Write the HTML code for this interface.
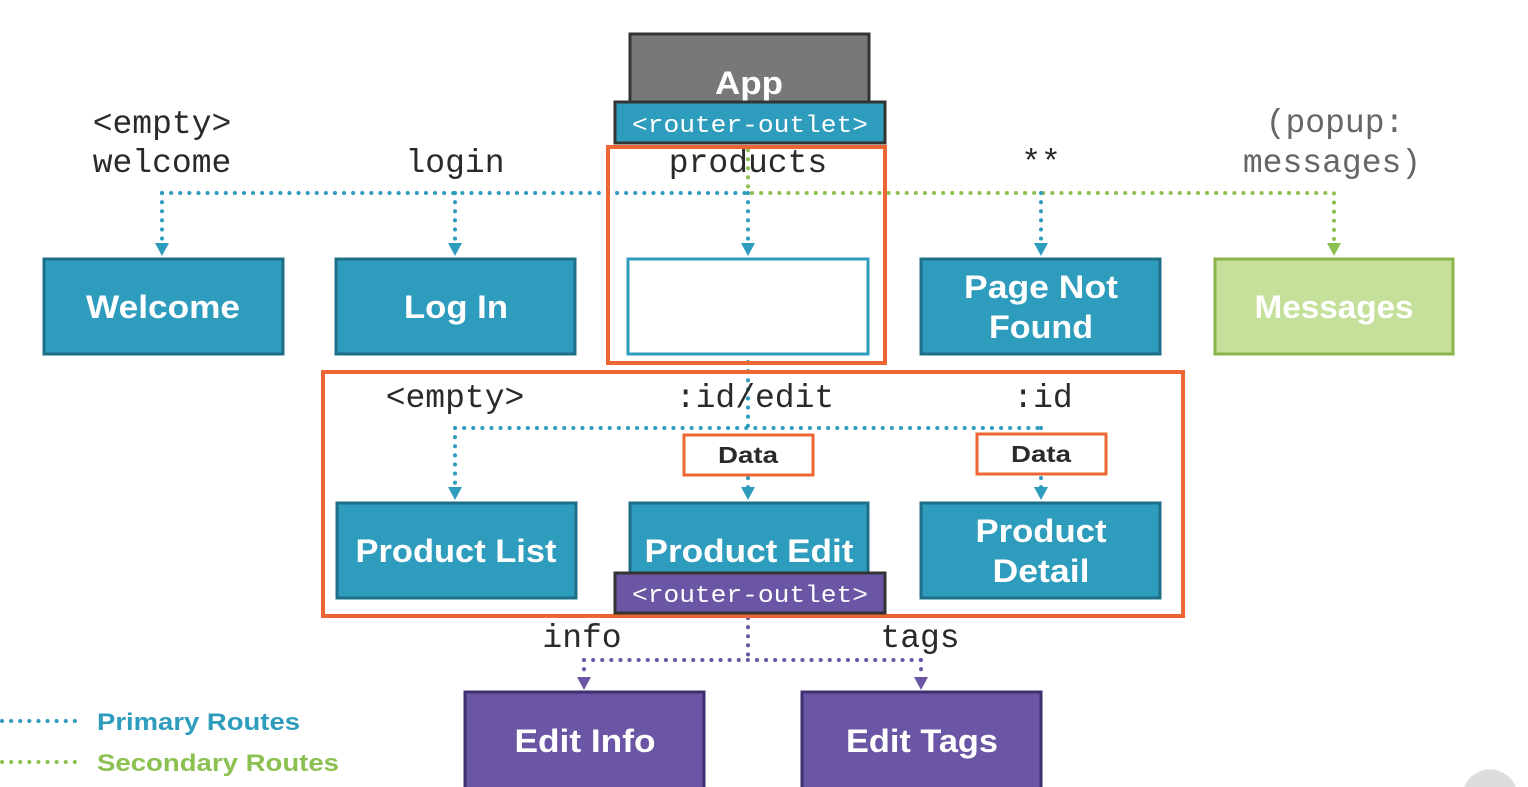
<!DOCTYPE html>
<html><head><meta charset="utf-8"><style>
html,body{margin:0;padding:0;background:#fff;width:1528px;height:787px;overflow:hidden}
svg{display:block;overflow:hidden}
.m{font-family:"Liberation Mono",monospace;font-size:33px;fill:#2a2a2a;text-anchor:middle}
.b{font-family:"Liberation Sans",sans-serif;font-weight:bold;font-size:32px;fill:#fff;text-anchor:middle}
</style></head><body>
<svg width="1528" height="787" viewBox="0 0 1528 787">
<!-- App -->
<rect x="630" y="34" width="239" height="70" fill="#787878" stroke="#333" stroke-width="3"/>
<text x="749" y="94" class="b" textLength="68" lengthAdjust="spacingAndGlyphs">App</text>
<rect x="615" y="102" width="270" height="41" fill="#2e9cbd" stroke="#333" stroke-width="3"/>
<text x="750" y="132" class="m" style="fill:#fff;font-size:24px" textLength="236" lengthAdjust="spacingAndGlyphs">&lt;router-outlet&gt;</text>
<!-- top labels -->
<text x="162" y="133" class="m">&lt;empty&gt;</text>
<text x="162" y="172" class="m">welcome</text>
<text x="455" y="172" class="m">login</text>
<text x="748" y="172" class="m">products</text>
<text x="1041" y="172" class="m">**</text>
<text x="1335" y="132" class="m" style="fill:#666">(popup:</text>
<text x="1332" y="172" class="m" style="fill:#666">messages)</text>
<!-- connectors -->
<g stroke-width="4" stroke-linecap="round" stroke-dasharray="0.1 9" fill="none">
<path d="M162,193 H748" stroke="#2e9cbd"/>
<path d="M752,193 H1334 V244" stroke="#8cc152"/>
<path d="M748,150 V193" stroke="#8cc152"/>
<path d="M162,193 V244 M455,193 V244 M748,193 V244 M1041,193 V244" stroke="#2e9cbd"/>
<path d="M748,362 V428 M455,428 H1041 M455,428 V488 M1041,428 V432 M748,478 V488 M1041,478 V488" stroke="#2e9cbd"/>
<path d="M748,618 V660 M584,660 H921 M584,660 V678 M921,660 V678" stroke="#6a56a5"/>
<path d="M2,721 H75" stroke="#2e9cbd"/>
<path d="M2,762 H75" stroke="#8cc152"/>
</g>
<g fill="#2e9cbd">
<path d="M155,243 h14 l-7,13z M448,243 h14 l-7,13z M741,243 h14 l-7,13z M1034,243 h14 l-7,13z"/>
<path d="M448,487 h14 l-7,13z M741,487 h14 l-7,13z M1034,487 h14 l-7,13z"/>
</g>
<path d="M1327,243 h14 l-7,13z" fill="#8cc152"/>
<path d="M577,677 h14 l-7,13z M914,677 h14 l-7,13z" fill="#6a56a5"/>
<!-- row 1 boxes -->
<rect x="44" y="259" width="239" height="95" fill="#2e9cbd" stroke="#1d6f87" stroke-width="3"/>
<text x="163" y="318" class="b" textLength="154" lengthAdjust="spacingAndGlyphs">Welcome</text>
<rect x="336" y="259" width="239" height="95" fill="#2e9cbd" stroke="#1d6f87" stroke-width="3"/>
<text x="456" y="318" class="b" textLength="104" lengthAdjust="spacingAndGlyphs">Log In</text>
<rect x="628" y="259" width="240" height="95" fill="#fff" stroke="#2e9cbd" stroke-width="3"/>
<rect x="921" y="259" width="239" height="95" fill="#2e9cbd" stroke="#1d6f87" stroke-width="3"/>
<text x="1041" y="298" class="b" textLength="154" lengthAdjust="spacingAndGlyphs">Page Not</text>
<text x="1041" y="338" class="b" textLength="104" lengthAdjust="spacingAndGlyphs">Found</text>
<rect x="1215" y="259" width="238" height="95" fill="#c5e09b" stroke="#8ab34a" stroke-width="3"/>
<text x="1334" y="318" class="b" textLength="159" lengthAdjust="spacingAndGlyphs">Messages</text>
<!-- orange frames -->
<rect x="608" y="147" width="277" height="216" fill="none" stroke="#ee6633" stroke-width="4"/>
<rect x="323" y="372" width="860" height="244" fill="none" stroke="#ee6633" stroke-width="4"/>
<!-- row 2 labels -->
<text x="455" y="407" class="m">&lt;empty&gt;</text>
<text x="755" y="407" class="m">:id/edit</text>
<text x="1043" y="407" class="m">:id</text>
<rect x="684" y="435" width="129" height="40" fill="#fff" stroke="#ee6633" stroke-width="3"/>
<text x="748" y="463" class="b" style="fill:#2a2a2a;font-size:23px" textLength="60" lengthAdjust="spacingAndGlyphs">Data</text>
<rect x="977" y="434" width="129" height="40" fill="#fff" stroke="#ee6633" stroke-width="3"/>
<text x="1041" y="462" class="b" style="fill:#2a2a2a;font-size:23px" textLength="60" lengthAdjust="spacingAndGlyphs">Data</text>
<!-- row 2 boxes -->
<rect x="337" y="503" width="239" height="95" fill="#2e9cbd" stroke="#1d6f87" stroke-width="3"/>
<text x="456" y="562" class="b" textLength="201" lengthAdjust="spacingAndGlyphs">Product List</text>
<rect x="630" y="503" width="238" height="95" fill="#2e9cbd" stroke="#1d6f87" stroke-width="3"/>
<text x="749" y="562" class="b" textLength="209" lengthAdjust="spacingAndGlyphs">Product Edit</text>
<rect x="921" y="503" width="239" height="95" fill="#2e9cbd" stroke="#1d6f87" stroke-width="3"/>
<text x="1041" y="542" class="b" textLength="131" lengthAdjust="spacingAndGlyphs">Product</text>
<text x="1041" y="582" class="b" textLength="97" lengthAdjust="spacingAndGlyphs">Detail</text>
<rect x="615" y="573" width="270" height="40" fill="#6a56a5" stroke="#333" stroke-width="3"/>
<text x="750" y="602" class="m" style="fill:#fff;font-size:24px" textLength="236" lengthAdjust="spacingAndGlyphs">&lt;router-outlet&gt;</text>
<!-- row 3 -->
<text x="582" y="647" class="m">info</text>
<text x="920" y="647" class="m">tags</text>
<path d="M465,787 V692 H704 V787" fill="#6a56a5" stroke="#3d2f70" stroke-width="3"/>
<text x="585" y="752" class="b" textLength="141" lengthAdjust="spacingAndGlyphs">Edit Info</text>
<path d="M802,787 V692 H1041 V787" fill="#6a56a5" stroke="#3d2f70" stroke-width="3"/>
<text x="922" y="752" class="b" textLength="152" lengthAdjust="spacingAndGlyphs">Edit Tags</text>
<!-- legend -->
<text x="97" y="730" style="font-family:'Liberation Sans',sans-serif;font-weight:bold;font-size:24px;fill:#2e9cbd" textLength="203" lengthAdjust="spacingAndGlyphs">Primary Routes</text>
<text x="97" y="771" style="font-family:'Liberation Sans',sans-serif;font-weight:bold;font-size:24px;fill:#8cc152" textLength="242" lengthAdjust="spacingAndGlyphs">Secondary Routes</text>
<path d="M1464,787 A28,28 0 0 1 1516,787 Z" fill="#ddd"/>
</svg>
</body></html>
